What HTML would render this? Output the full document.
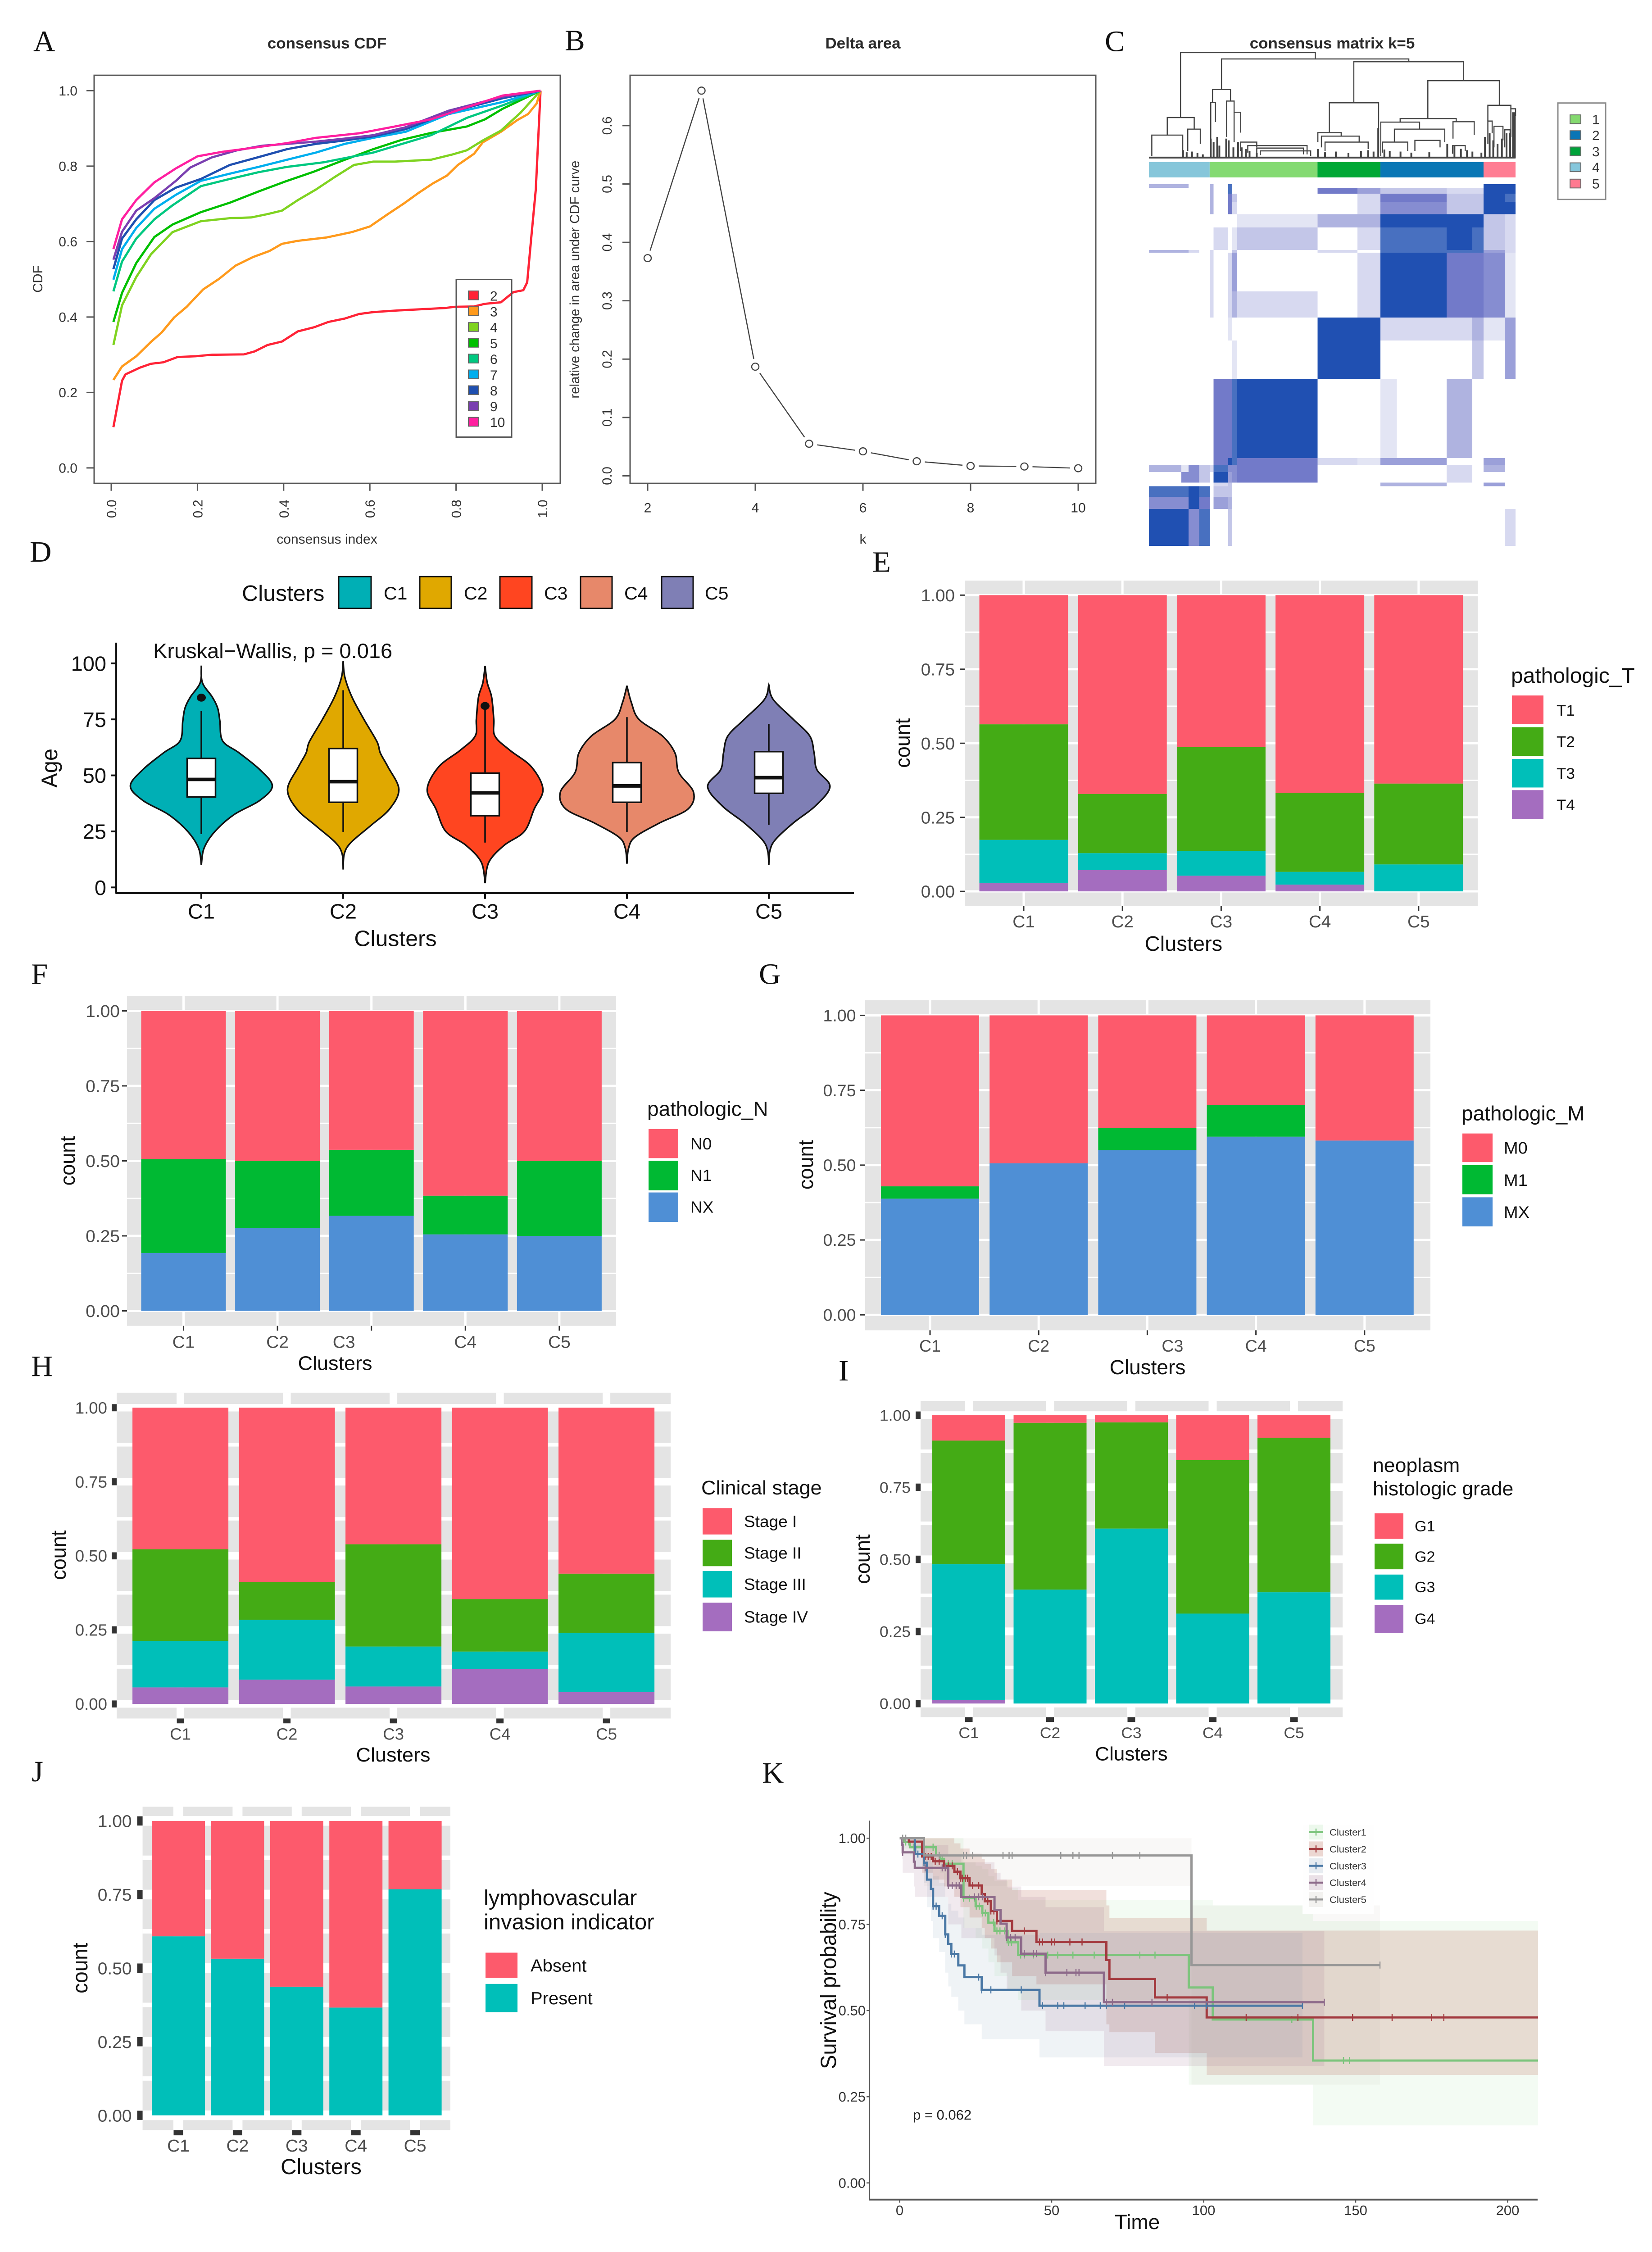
<!DOCTYPE html>
<html lang="en">
<head>
<meta charset="utf-8">
<title>Consensus clustering figure</title>
<style>
html,body{margin:0;padding:0;background:#fff;width:100%;height:100%;overflow:hidden}
svg{display:block;font-family:"Liberation Sans",Arial,sans-serif}
#fig{width:100vw;height:100vh}
.L{font-family:"Liberation Serif",serif;font-size:67px;fill:#111}
.T{font-weight:bold;font-size:35px;fill:#2a2a2a;text-anchor:middle}
.R{font-size:30px;fill:#333}
.m{text-anchor:middle}
.k{fill:#111}
</style>
</head>
<body>
<svg id="fig" xmlns="http://www.w3.org/2000/svg" viewBox="0 0 3668 5116" preserveAspectRatio="none">
<rect width="3668" height="5116" fill="#ffffff"/>

<text class="L" x="74" y="116">A</text>
<text class="L" x="1254" y="114">B</text>
<text class="L" x="2453" y="116">C</text>
<text class="L" x="66" y="1276">D</text>
<text class="L" x="1937" y="1299">E</text>
<text class="L" x="69" y="2235">F</text>
<text class="L" x="1685" y="2235">G</text>
<text class="L" x="69" y="3126">H</text>
<text class="L" x="1862" y="3136">I</text>
<text class="L" x="70" y="4047">J</text>
<text class="L" x="1692" y="4050">K</text>

<!-- A -->
<text class="T" x="726" y="110">consensus CDF</text>
<text class="R m" x="726" y="1235">consensus index</text>
<text class="R m" x="94" y="634" transform="rotate(-90 94 634)">CDF</text>
<!-- B -->
<text class="T" x="1916" y="110">Delta area</text>
<text class="R m" x="1916" y="1235">k</text>
<text class="R m" x="1286" y="635" transform="rotate(-90 1286 635)">relative change in area under CDF curve</text>
<!-- C -->
<text class="T" x="2958" y="110">consensus matrix k=5</text>
<rect x="3459" y="234" width="106" height="219" fill="#fff" stroke="#8a8a8a" stroke-width="3"/>
<rect x="3486" y="261" width="24" height="20" fill="#84d96f" stroke="#666" stroke-width="2"/>
<rect x="3486" y="297" width="24" height="20" fill="#0a75b5" stroke="#666" stroke-width="2"/>
<rect x="3486" y="334" width="24" height="20" fill="#00a33a" stroke="#666" stroke-width="2"/>
<rect x="3486" y="370" width="24" height="20" fill="#86c7dc" stroke="#666" stroke-width="2"/>
<rect x="3486" y="407" width="24" height="20" fill="#ff7a90" stroke="#666" stroke-width="2"/>
<text class="R" x="3535" y="282">1</text>
<text class="R" x="3535" y="318">2</text>
<text class="R" x="3535" y="355">3</text>
<text class="R" x="3535" y="391">4</text>
<text class="R" x="3535" y="428">5</text>
<!-- D -->
<text class="k" x="537" y="1365" font-size="50">Clusters</text>
<rect x="752" y="1310" width="72" height="72" fill="#00afb5" stroke="#111" stroke-width="3"/>
<rect x="932" y="1310" width="70" height="72" fill="#e0a800" stroke="#111" stroke-width="3"/>
<rect x="1110" y="1310" width="71" height="72" fill="#ff4520" stroke="#111" stroke-width="3"/>
<rect x="1289" y="1310" width="70" height="72" fill="#e7886a" stroke="#111" stroke-width="3"/>
<rect x="1469" y="1310" width="70" height="72" fill="#7f7fb5" stroke="#111" stroke-width="3"/>
<text class="k" x="852" y="1362" font-size="41">C1</text>
<text class="k" x="1030" y="1362" font-size="41">C2</text>
<text class="k" x="1208" y="1362" font-size="41">C3</text>
<text class="k" x="1386" y="1362" font-size="41">C4</text>
<text class="k" x="1565" y="1362" font-size="41">C5</text>
<text class="k" x="340" y="1495" font-size="47">Kruskal−Wallis, p = 0.016</text>
<text class="k m" x="127" y="1745" font-size="50" transform="rotate(-90 127 1745)">Age</text>
<text class="k m" x="878" y="2149" font-size="50">Clusters</text>
<!-- E -->
<text class="k m" x="2628" y="2160" font-size="47">Clusters</text>
<text class="k m" x="2020" y="1688" font-size="46" transform="rotate(-90 2020 1688)">count</text>
<text class="k" x="3355" y="1551" font-size="48">pathologic_T</text>
<rect x="3357" y="1580" width="70" height="65" fill="#fd5a6c"/>
<rect x="3357" y="1652" width="70" height="65" fill="#44ab15"/>
<rect x="3357" y="1724" width="70" height="65" fill="#00bfb9"/>
<rect x="3357" y="1795" width="70" height="66" fill="#a46dbf"/>
<text class="k" x="3456" y="1626" font-size="35">T1</text>
<text class="k" x="3456" y="1697" font-size="35">T2</text>
<text class="k" x="3456" y="1769" font-size="35">T3</text>
<text class="k" x="3456" y="1841" font-size="35">T4</text>
<!-- F -->
<text class="k m" x="744" y="3112" font-size="45">Clusters</text>
<text class="k m" x="166" y="2637" font-size="46" transform="rotate(-90 166 2637)">count</text>
<text class="k" x="1437" y="2535" font-size="46">pathologic_N</text>
<rect x="1440" y="2565" width="66" height="66" fill="#fd5a6c"/>
<rect x="1440" y="2637" width="66" height="67" fill="#00b933"/>
<rect x="1440" y="2709" width="66" height="67" fill="#4f8fd5"/>
<text class="k" x="1533" y="2611" font-size="37">N0</text>
<text class="k" x="1533" y="2683" font-size="37">N1</text>
<text class="k" x="1533" y="2755" font-size="37">NX</text>
<!-- G -->
<text class="k m" x="2548" y="3122" font-size="46">Clusters</text>
<text class="k m" x="1805" y="2646" font-size="46" transform="rotate(-90 1805 2646)">count</text>
<text class="k" x="3245" y="2545" font-size="46">pathologic_M</text>
<rect x="3247" y="2575" width="67" height="65" fill="#fd5a6c"/>
<rect x="3247" y="2647" width="67" height="66" fill="#00b933"/>
<rect x="3247" y="2720" width="67" height="66" fill="#4f8fd5"/>
<text class="k" x="3339" y="2621" font-size="38">M0</text>
<text class="k" x="3339" y="2694" font-size="38">M1</text>
<text class="k" x="3339" y="2767" font-size="38">MX</text>
<!-- H -->
<text class="k m" x="873" y="4002" font-size="45">Clusters</text>
<text class="k m" x="146" y="3533" font-size="46" transform="rotate(-90 146 3533)">count</text>
<text class="k" x="1557" y="3395" font-size="45">Clinical stage</text>
<rect x="1560" y="3426" width="65" height="60" fill="#fd5a6c"/>
<rect x="1560" y="3498" width="65" height="60" fill="#44ab15"/>
<rect x="1560" y="3569" width="65" height="60" fill="#00bfb9"/>
<rect x="1560" y="3641" width="65" height="65" fill="#a46dbf"/>
<text class="k" x="1652" y="3469" font-size="37">Stage I</text>
<text class="k" x="1652" y="3541" font-size="37">Stage II</text>
<text class="k" x="1652" y="3612" font-size="37">Stage III</text>
<text class="k" x="1652" y="3686" font-size="37">Stage IV</text>
<!-- I -->
<text class="k m" x="2512" y="3999" font-size="44">Clusters</text>
<text class="k m" x="1931" y="3542" font-size="46" transform="rotate(-90 1931 3542)">count</text>
<text class="k" x="3048" y="3344" font-size="44.6">neoplasm</text>
<text class="k" x="3048" y="3397" font-size="44.6">histologic grade</text>
<rect x="3052" y="3438" width="64" height="58" fill="#fd5a6c"/>
<rect x="3052" y="3507" width="64" height="58" fill="#44ab15"/>
<rect x="3052" y="3577" width="64" height="57" fill="#00bfb9"/>
<rect x="3052" y="3646" width="64" height="64" fill="#a46dbf"/>
<text class="k" x="3141" y="3479" font-size="34">G1</text>
<text class="k" x="3141" y="3548" font-size="34">G2</text>
<text class="k" x="3141" y="3617" font-size="34">G3</text>
<text class="k" x="3141" y="3689" font-size="34">G4</text>
<!-- J -->
<text class="k m" x="713" y="4939" font-size="49">Clusters</text>
<text class="k m" x="194" y="4471" font-size="47" transform="rotate(-90 194 4471)">count</text>
<text class="k" x="1074" y="4328" font-size="49">lymphovascular</text>
<text class="k" x="1074" y="4383" font-size="49">invasion indicator</text>
<rect x="1078" y="4436" width="71" height="57" fill="#fd5a6c"/>
<rect x="1078" y="4507" width="71" height="64" fill="#00bfb9"/>
<text class="k" x="1178" y="4479" font-size="40">Absent</text>
<text class="k" x="1178" y="4553" font-size="40">Present</text>
</svg>

<script>
/* ---------- panel A data ---------- */
const cdfTicks=[0,0.2,0.4,0.6,0.8,1];
const cdfTickLabels=['0.0','0.2','0.4','0.6','0.8','1.0'];
const cdfX2=[.005,.025,.033,.067,.092,.121,.154,.196,.233,.308,.333,.363,.396,.433,.471,.504,.542,.575,.608,.658,.742,.775,.796,.842,.867,.904,.933,.956,.965,.975,.985,.996];
const cdfY2=[.108,.231,.248,.266,.276,.280,.294,.296,.300,.301,.309,.326,.335,.362,.373,.387,.396,.408,.413,.417,.422,.424,.427,.428,.435,.439,.466,.471,.492,.617,.738,1];
const cdfX3=[.005,.025,.058,.092,.117,.146,.175,.213,.25,.288,.329,.367,.396,.433,.5,.558,.6,.642,.679,.713,.746,.779,.804,.842,.862,.904,.942,.967,.987,.996];
const cdfY3=[.233,.269,.296,.334,.359,.399,.427,.473,.501,.536,.559,.575,.594,.602,.611,.625,.640,.673,.701,.729,.754,.775,.803,.833,.863,.891,.922,.938,.966,1];
const cdfX4=[.005,.025,.058,.092,.142,.208,.275,.325,.363,.396,.433,.475,.517,.563,.608,.658,.742,.792,.825,.862,.904,.95,.996];
const cdfY4=[.326,.431,.506,.566,.625,.654,.662,.664,.673,.682,.710,.738,.770,.803,.812,.812,.817,.831,.842,.868,.894,.942,1];
const cdfX5=[.005,.025,.058,.1,.142,.208,.275,.342,.408,.467,.542,.608,.675,.742,.825,.867,.908,.996];
const cdfY5=[.387,.464,.543,.612,.645,.678,.703,.733,.761,.784,.817,.845,.870,.888,.905,.924,.952,1];
const cdfX6=[.005,.025,.058,.1,.142,.208,.275,.342,.408,.492,.608,.675,.742,.825,.908,.996];
const cdfY6=[.468,.547,.608,.659,.696,.747,.766,.784,.798,.810,.836,.859,.882,.928,.961,1];
const cdfX7=[.005,.025,.058,.1,.15,.208,.275,.342,.408,.475,.542,.608,.683,.783,.908,.996];
const cdfY7=[.499,.580,.636,.687,.724,.761,.780,.798,.817,.836,.859,.875,.891,.938,.970,1];
const cdfX8=[.005,.025,.058,.1,.15,.208,.275,.342,.408,.475,.542,.608,.683,.783,.908,.996];
const cdfY8=[.527,.608,.659,.710,.743,.766,.803,.824,.845,.859,.868,.879,.898,.942,.980,1];
const cdfX9=[.005,.025,.058,.1,.15,.183,.233,.292,.35,.408,.475,.542,.608,.683,.783,.908,.996];
const cdfY9=[.552,.626,.682,.715,.761,.796,.823,.842,.854,.859,.865,.873,.882,.903,.947,.984,1];
const cdfX10=[.005,.025,.058,.1,.15,.2,.258,.325,.408,.475,.575,.658,.742,.825,.908,.996];
const cdfY10=[.580,.659,.710,.757,.794,.826,.838,.848,.861,.875,.887,.905,.924,.956,.987,1];
const cdfKeys=['2','3','4','5','6','7','8','9','10'];
const cdfColors=['#ff2336','#ff9a1c','#7fd320','#00c000','#00c880','#00aeee','#1f4fb0','#7a3fb0','#ff1fa0'];
const cdfXs=[cdfX2,cdfX3,cdfX4,cdfX5,cdfX6,cdfX7,cdfX8,cdfX9,cdfX10];
const cdfYs=[cdfY2,cdfY3,cdfY4,cdfY5,cdfY6,cdfY7,cdfY8,cdfY9,cdfY10];

/* ---------- panel B data ---------- */
const deltaK=[2,3,4,5,6,7,8,9,10];
const deltaArea=[.373,.66,.187,.055,.042,.025,.017,.016,.013];
const deltaXTicks=[2,4,6,8,10];
const deltaYTicks=[0,.1,.2,.3,.4,.5,.6];
const deltaYLabels=['0.0','0.1','0.2','0.3','0.4','0.5','0.6'];

/* ---------- panel C data (sample index units 0-1020) ---------- */
const matrixColCuts=[0,90,110,140,169,180,220,232,245,469,580,644,690,828,900,931,990,1020];
const matrixRowCuts=[0,10,27,50,85,123,187,195,305,380,445,555,780,800,820,850,860,890,925,1030];
const consensus=[
'44004080000000099',
'00004080075332299',
'00004073002773398',
'00004072002663399',
'00000000144999932',
'00000201302889832',
'44202003020888852',
'00002025002997761',
'00002024202997761',
'00000010099222415',
'00000001099000305',
'00000778900104000',
'00000798721550050',
'41632866700002040',
'06630956700002000',
'00000230000440050',
'88980330000000000',
'66970540000000000',
'99680030000000002'];
const dendroMerges=[[88,463,300,115,282],[202,723,282,195,274],[570,875,274,157,220],[776,975,220,112,150],[502,639,157,72,15],[943,1007,150,105,140],[177,227,195,158,162],[51,126,115,65,82],[8,94,65,5,20],[108,143,82,20,40],[645,753,102,5,82],[683,823,82,45,45],[846,905,103,55,65],[699,855,112,102,103],[172,185,158,45,102],[216,237,162,60,130],[237,255,130,45,72],[470,535,72,45,62],[480,585,62,30,45],[490,610,45,20,25],[255,300,45,20,30],[275,440,35,15,10],[300,430,28,10,10],[310,450,20,8,5],[943,955,105,40,70],[960,985,90,30,50],[1007,1020,140,60,120],[990,1005,80,30,60],[650,720,45,15,20],[740,810,50,20,30],[845,880,35,12,20]];
const dendroBars=[[172,55],[180,45],[190,60],[196,35],[215,55],[222,50],[235,30],[248,45],[258,30],[270,25],[280,20],[300,14],[95,22],[105,16],[120,18],[135,14],[150,10],[470,25],[490,16],[520,18],[555,14],[590,20],[610,22],[625,18],[638,85],[655,24],[670,20],[700,18],[730,15],[780,16],[830,40],[850,35],[868,26],[885,22],[900,18],[925,15],[935,60],[948,70],[958,50],[970,40],[982,55],[995,70],[1005,70],[1013,130],[1018,130]];

/* ---------- panel D data ---------- */
const violinCats=['C1','C2','C3','C4','C5'];
const violinColors=['#00afb5','#e0a800','#ff4520','#e7886a','#7f7fb5'];
const ageTicks=[0,25,50,75,100];
const ageC1=[99,91.4,85,80,74.2,65.4,60.1,52.6,45.3,38.8,32.5,25,17.5,10];
const densC1=[0,.02,.2,.3,.34,.39,.69,1.07,1.3,1.07,.6,.25,.05,0];
const ageC2=[101,93.9,85,75,65,60,53.8,43.8,35,27.5,20,15,8];
const densC2=[0,.03,.16,.38,.62,.68,.82,1.02,.85,.5,.14,.02,0];
const ageC3=[98.9,91.4,85,75,67.6,61.3,53.8,43.8,35,25,18.8,11.3,1.9];
const densC3=[0,.04,.12,.16,.18,.45,.85,1.06,.9,.72,.35,.07,0];
const ageC4=[90,82.6,75,67.6,60,51.3,42.5,35,28.8,22.5,17.5,10.6];
const densC4=[0,.08,.22,.65,.88,.95,1.22,1.12,.6,.15,.03,0];
const ageC5=[90.4,83.9,75,67.6,60,52.6,45,36.3,28.8,21.3,16.3,10];
const densC5=[0,.08,.45,.75,.83,.88,1.12,.85,.45,.12,.02,0];
const violinAges=[ageC1,ageC2,ageC3,ageC4,ageC5];
const violinDens=[densC1,densC2,densC3,densC4,densC5];
const boxQ1=[40.4,38,32,38,42];
const boxMedian=[48.2,47.2,42.2,45.3,49];
const boxQ3=[57.6,62,51,55.7,60.6];
const whiskerLow=[23.8,24.8,20,24.8,28];
const whiskerHigh=[78.8,88,80.7,76,73];
const outlierAge=[84.7,null,81,null,null];

/* ---------- stacked-bar data ---------- */
const barCats=['C1','C2','C3','C4','C5'];
const barTicks=[0,.25,.5,.75,1];
const barTickLabels=['0.00','0.25','0.50','0.75','1.00'];
const shareT4=[.029,.072,.053,.023,0];
const shareT3=[.145,.057,.083,.043,.091];
const shareT2=[.390,.200,.351,.267,.273];
const shareT1=[.436,.671,.513,.667,.636];
const shareNX=[.193,.277,.317,.255,.25];
const shareN1=[.313,.223,.22,.129,.25];
const shareN0=[.494,.5,.463,.616,.5];
const shareMX=[.388,.506,.55,.595,.582];
const shareM1=[.041,0,.074,.106,0];
const shareM0=[.571,.494,.376,.299,.418];
const shareStageIV=[.056,.082,.059,.118,.04];
const shareStageIII=[.156,.202,.135,.059,.2];
const shareStageII=[.31,.128,.345,.177,.2];
const shareStageI=[.478,.588,.461,.646,.56];
const shareG4=[.012,0,0,0,0];
const shareG3=[.471,.395,.607,.312,.386];
const shareG2=[.429,.579,.368,.532,.536];
const shareG1=[.088,.026,.025,.156,.078];
const sharePresent=[.608,.532,.437,.366,.768];
const shareAbsent=[.392,.468,.563,.634,.232];

/* ---------- panel K data ---------- */
const kmXTicks=[0,50,100,150,200];
const kmYTicks=[0,.25,.5,.75,1];
const kmYLabels=['0.00','0.25','0.50','0.75','1.00'];
const km1Time=[0,1.4,3.4,12,13.3,14.6,21,25,27.2,29.2,31.2,35.5,39,95.1,103,136,210];
const km1Surv=[1,.989,.974,.951,.94,.926,.826,.803,.783,.755,.731,.698,.661,.567,.474,.355,.355];
const km1Upper=[1,1,1,1,1,1,.93,.92,.91,.89,.875,.855,.82,.82,.805,.76,.76];
const km1Lower=[1,.97,.95,.92,.9,.88,.74,.71,.68,.64,.6,.56,.53,.285,.285,.167,.167];
const km1Censor=[2,3,4.7,8,11,14,16,17.3,21,23,24.6,25.2,26.2,27.2,28.2,30.9,32,33,34.5,35.8,36.8,39.8,41,44,48.7,52,57,64,79,84,129,146,148];
const km2Time=[0,3,7.4,11,14.6,18,20,23,27,28,30,32,37,45,68,69,84,101,210];
const km2Surv=[1,.99,.947,.933,.92,.903,.884,.863,.838,.817,.789,.76,.731,.699,.647,.592,.538,.48,.48];
const km2Upper=[1,1,1,1,1,.985,.97,.955,.94,.925,.91,.88,.85,.85,.805,.768,.768,.732,.732];
const km2Lower=[1,.97,.9,.88,.86,.83,.8,.77,.74,.71,.68,.64,.6,.576,.46,.437,.377,.313,.313];
const km2Censor=[8.4,9.4,10.4,11.7,13,16,17.3,19,20,20.6,21.6,22.3,24,26,29,30,31,32,41,46,47,50,51,56,60,88,114,131,149,162,175,179];
const km3Time=[0,5,5.1,8,9,10.3,11,13,15,16,17,19.3,21.3,27,46,132.5];
const km3Surv=[1,.974,.954,.929,.88,.853,.803,.775,.721,.693,.664,.631,.597,.56,.514,.514];
const km3Upper=[1,1,1,.98,.95,.93,.89,.87,.83,.81,.79,.77,.74,.72,.725,.725];
const km3Lower=[1,.94,.91,.87,.8,.76,.71,.67,.61,.57,.54,.5,.46,.417,.364,.364];
const km3Censor=[6,8,11,12,14,15,17,18,26,27,30,40,47,52,54,61,66,68,74,97,101,132.5];
const km4Time=[0,.9,1,4.7,5,16,20.3,31.2,33.2,35.2,40,48,67.2,139.7];
const km4Surv=[1,.98,.959,.932,.914,.863,.83,.792,.752,.712,.665,.61,.524,.524];
const km4Upper=[1,1,1,1,.98,.95,.93,.9,.88,.86,.83,.8,.73,.73];
const km4Lower=[1,.94,.9,.86,.83,.75,.71,.66,.61,.56,.5,.44,.339,.339];
const km4Censor=[1,8.4,14,15,16,17.3,18.6,19.6,24.6,26,27.2,35.2,36.5,38,41,44,45,48,55,58,59,68,70,83,139.7];
const km5Time=[0,8,96,158];
const km5Surv=[1,.95,.632,.632];
const km5Upper=[1,1,.805,.805];
const km5Lower=[1,.861,.285,.285];
const km5Censor=[1,2,13,21,22,24,34,36,37,53,57,59,70,79,158];
const kmNames=['Cluster1','Cluster2','Cluster3','Cluster4','Cluster5'];
const kmColors=['#7cc47c','#a33a3f','#4a78a5','#8d6a8a','#979797'];
const kmBandColors=['#8fdc8f','#b0553f','#6f8fae','#8f5f80','#a89a8a'];
const kmBandAlpha=[.11,.18,.11,.13,.07];
const kmTimes=[km1Time,km2Time,km3Time,km4Time,km5Time];
const kmSurvs=[km1Surv,km2Surv,km3Surv,km4Surv,km5Surv];
const kmUppers=[km1Upper,km2Upper,km3Upper,km4Upper,km5Upper];
const kmLowers=[km1Lower,km2Lower,km3Lower,km4Lower,km5Lower];
const kmCensors=[km1Censor,km2Censor,km3Censor,km4Censor,km5Censor];

/* ---------- helpers ---------- */
const NS='http://www.w3.org/2000/svg';
const svg=document.getElementById('fig');
function mk(parent,tag,attrs,txt){
  const e=document.createElementNS(NS,tag);
  for(const k in attrs){e.setAttribute(k,attrs[k]);}
  if(txt!==undefined){e.textContent=txt;}
  parent.appendChild(e);
  return e;
}
function group(name){
  const g=mk(svg,'g',{});
  
  
  return g;
}

/* ---------- A ---------- */
(function(){
  const g=group('cdf-chart');
  const x=v=>247+957*v, y=v=>1063-857*v;
  const box=mk(g,'rect',{x:209,y:171,width:1035,height:927,fill:'none',stroke:'#555','stroke-width':3});
  
  
  cdfTicks.forEach((t,i)=>{
    const a=mk(g,'line',{x1:x(t),x2:x(t),y1:1098,y2:1115,stroke:'#555','stroke-width':3});
    
    
    const b=mk(g,'line',{x1:192,x2:209,y1:y(t),y2:y(t),stroke:'#555','stroke-width':3});
    
    
    const c=mk(g,'text',{x:172,y:y(t)+11,'text-anchor':'end','font-size':30,fill:'#333'},cdfTickLabels[i]);
    
    
    const d=mk(g,'text',{x:x(t)+11,y:1156,'text-anchor':'middle','font-size':30,fill:'#333',transform:'rotate(-90 '+(x(t)+11)+' 1156)'},cdfTickLabels[i]);
    
    
  });
  cdfKeys.forEach((k,i)=>{
    const p=cdfXs[i].map((v,j)=>x(v)+','+y(cdfYs[i][j])).join(' ');
    const l=mk(g,'polyline',{points:p,fill:'none',stroke:cdfColors[i],'stroke-width':5,'stroke-linejoin':'round'});
    
    
  });
  const lb=mk(g,'rect',{x:1013,y:635,width:123,height:358,fill:'none',stroke:'#555','stroke-width':3});
  
  
  cdfKeys.forEach((k,i)=>{
    const cy=671+i*35.9;
    const s=mk(g,'rect',{x:1040,y:cy-10,width:23,height:20,fill:cdfColors[i],stroke:'#666','stroke-width':2});
    
    
    const t=mk(g,'text',{x:1088,y:cy+12,'font-size':30,fill:'#333'},k);
    
    
  });
})();

/* ---------- B ---------- */
(function(){
  const g=group('delta-chart');
  const x=v=>1438+119.5*(v-2), y=v=>1081-1326*v;
  const box=mk(g,'rect',{x:1399,y:171,width:1034,height:927,fill:'none',stroke:'#555','stroke-width':3});
  
  
  deltaXTicks.forEach(t=>{
    const a=mk(g,'line',{x1:x(t),x2:x(t),y1:1098,y2:1115,stroke:'#555','stroke-width':3});
    
    
    const c=mk(g,'text',{x:x(t),y:1164,'text-anchor':'middle','font-size':30,fill:'#333'},String(t));
    
    
  });
  deltaYTicks.forEach((t,i)=>{
    const a=mk(g,'line',{x1:1382,x2:1399,y1:y(t),y2:y(t),stroke:'#555','stroke-width':3});
    
    
    const c=mk(g,'text',{x:1358,y:y(t),'text-anchor':'middle','font-size':30,fill:'#333',transform:'rotate(-90 1358 '+y(t)+')'},deltaYLabels[i]);
    
    
  });
  for(let i=0;i<deltaK.length-1;i++){
    const x1=x(deltaK[i]),y1=y(deltaArea[i]),x2=x(deltaK[i+1]),y2=y(deltaArea[i+1]);
    const L=Math.hypot(x2-x1,y2-y1),gap=Math.min(18,L/2-1),ux=(x2-x1)/L,uy=(y2-y1)/L;
    const l=mk(g,'line',{x1:x1+ux*gap,y1:y1+uy*gap,x2:x2-ux*gap,y2:y2-uy*gap,stroke:'#444','stroke-width':2.5});
    
    
  }
  deltaK.forEach((k,i)=>{
    const c=mk(g,'circle',{cx:x(k),cy:y(deltaArea[i]),r:8,fill:'#fff',stroke:'#444','stroke-width':2.5});
    
    
  });
})();

/* ---------- C ---------- */
(function(){
  const g=group('consensus-matrix');
  const sx=814/1020, sy=821.5/1030;
  const X=u=>2551+u*sx, Y=v=>418.5+v*sy, H=h=>358.7-h*.797;
  matrixRowCuts.slice(0,-1).forEach((r0,r)=>{
    for(let c=0;c<matrixColCuts.length-1;c++){
      const level=+consensus[r][c];
      if(!level) continue;
      const cell=mk(g,'rect',{x:X(matrixColCuts[c]),y:Y(r0),width:(matrixColCuts[c+1]-matrixColCuts[c])*sx,height:(matrixRowCuts[r+1]-r0)*sy,fill:level>7?'#2050b2':'#3a45b4','fill-opacity':level>=9?1:Math.max(.14,level/9*.92),'shape-rendering':'crispEdges'});
      
      
    }
  });
  const barCuts=[0,169,469,644,931,1020];
  const barColors=['#86c6da','#84da72','#00a835','#0a77b5','#ff7d93'];
  barColors.forEach((col,i)=>{
    const b=mk(g,'rect',{x:X(barCuts[i]),y:368,width:(barCuts[i+1]-barCuts[i])*sx,height:35,fill:col});
    
    
  });
  dendroBars.forEach(b=>{
    const l=mk(g,'line',{x1:X(b[0]),x2:X(b[0]),y1:H(0),y2:H(b[1]),stroke:'#444','stroke-width':4});
    
    
  });
  dendroMerges.forEach(m=>{
    const pts=[[X(m[0]),H(m[3])],[X(m[0]),H(m[2])],[X(m[1]),H(m[2])],[X(m[1]),H(m[4])]].map(p=>p.join(',')).join(' ');
    const l=mk(g,'polyline',{points:pts,fill:'none',stroke:'#444','stroke-width':2.5});
    
    
  });
  const base=mk(g,'line',{x1:2551,x2:3365,y1:358,y2:358,stroke:'#444','stroke-width':4});
  
  
})();

/* ---------- D ---------- */
(function(){
  const g=group('age-violin-chart');
  const x=i=>447+315*i, y=a=>2016-5.09*a, W=121.2;
  const ax=mk(g,'line',{x1:258,x2:258,y1:1460,y2:2030,stroke:'#111','stroke-width':4});
  
  
  const ay=mk(g,'line',{x1:258,x2:1896,y1:2029,y2:2029,stroke:'#111','stroke-width':4});
  
  
  ageTicks.forEach(t=>{
    const a=mk(g,'line',{x1:246,x2:258,y1:y(t),y2:y(t),stroke:'#111','stroke-width':4});
    
    
    const l=mk(g,'text',{x:236,y:y(t)+17,'text-anchor':'end','font-size':47,fill:'#111'},String(t));
    
    
  });
  function smooth(p){
    let d='M'+p[0][0]+' '+p[0][1];
    for(let i=0;i<p.length-1;i++){
      const a=p[Math.max(0,i-1)],b=p[i],c=p[i+1],e=p[Math.min(p.length-1,i+2)];
      d+=' C'+(b[0]+(c[0]-a[0])/6)+' '+(b[1]+(c[1]-a[1])/6)+' '+(c[0]-(e[0]-b[0])/6)+' '+(c[1]-(e[1]-b[1])/6)+' '+c[0]+' '+c[1];
    }
    return d;
  }
  violinCats.forEach((cat,i)=>{
    const cx=x(i), ages=violinAges[i], dens=violinDens[i];
    const right=ages.map((a,j)=>[cx+dens[j]*W,y(a)]);
    const left=ages.map((a,j)=>[cx-dens[j]*W,y(a)]).reverse();
    const d=smooth(right)+' '+smooth(left).replace(/^M[^C]+/,'L'+left[0][0]+' '+left[0][1]+' ')+' Z';
    const v=mk(g,'path',{d:d,fill:violinColors[i],stroke:'#111','stroke-width':3.5});
    
    
    const w=mk(g,'line',{x1:cx,x2:cx,y1:y(whiskerLow[i]),y2:y(whiskerHigh[i]),stroke:'#111','stroke-width':3.5});
    
    
    const b=mk(g,'rect',{x:cx-31.5,y:y(boxQ3[i]),width:63,height:y(boxQ1[i])-y(boxQ3[i]),fill:'#fff',stroke:'#111','stroke-width':3.5});
    
    
    const m=mk(g,'line',{x1:cx-31.5,x2:cx+31.5,y1:y(boxMedian[i]),y2:y(boxMedian[i]),stroke:'#111','stroke-width':8});
    
    
    if(outlierAge[i]!==null){
      const o=mk(g,'ellipse',{cx:cx,cy:y(outlierAge[i]),rx:10,ry:9,fill:'#111'});
      
      
    }
    const t=mk(g,'line',{x1:cx,x2:cx,y1:2029,y2:2042,stroke:'#111','stroke-width':4});
    
    
    const l=mk(g,'text',{x:cx,y:2087,'text-anchor':'middle','font-size':47,fill:'#111'},cat);
    
    
  });
})();

/* ---------- stacked bars ---------- */
function drawBars(name,p,series){
  const g=group(name+'-bar-chart');
  const y=v=>p.y0+(p.y1-p.y0)*v, x=i=>p.cx+p.step*i;
  const bg=mk(g,'rect',{x:p.x0,y:p.top,width:p.x1-p.x0,height:p.bottom-p.top,fill:'#e4e4e4'});
  
  
  barTicks.forEach((t,i)=>{
    if(i<barTicks.length-1){
      const mv=(t+barTicks[i+1])/2;
      const mn=mk(g,'line',{x1:p.x0,x2:p.x1,y1:y(mv),y2:y(mv),stroke:'#fff','stroke-width':p.minor});
      
      
    }
    const mj=mk(g,'line',{x1:p.x0,x2:p.x1,y1:y(t),y2:y(t),stroke:'#fff','stroke-width':p.major});
    
    
  });
  barCats.forEach((c,i)=>{
    const v=mk(g,'line',{x1:x(i),x2:x(i),y1:p.top,y2:p.bottom,stroke:'#fff','stroke-width':p.major});
    
    
  });
  barCats.forEach((c,i)=>{
    let total=0;
    series.forEach(s=>{total+=s.values[i];});
    let acc=0;
    series.forEach(s=>{
      const share=s.values[i]/total;
      if(share>0){
        const b=mk(g,'rect',{x:x(i)-p.bar/2,y:y(acc+share),width:p.bar,height:y(acc)-y(acc+share),fill:s.color});
        
        
      }
      acc+=share;
    });
    const t=mk(g,'rect',{x:x(i)-p.tickW/2,y:p.bottom,width:p.tickW,height:p.tickL,fill:'#333'});
    
    
    const l=mk(g,'text',{x:x(i)+(i===2?p.c3Shift:0),y:p.labelY+p.fs*.36,'text-anchor':'middle','font-size':p.fs,fill:'#4d4d4d'},c);
    
    
  });
  barTicks.forEach((t,i)=>{
    const m=mk(g,'rect',{x:p.x0-p.tickL,y:y(t)-p.tickW/2,width:p.tickL,height:p.tickW,fill:'#333'});
    
    
    const l=mk(g,'text',{x:p.x0-p.gap,y:y(t)+p.fs*.36,'text-anchor':'end','font-size':p.fs,fill:'#4d4d4d'},barTickLabels[i]);
    
    
  });
}
const RED='#fd5a6c',GRN='#44ab15',TEAL='#00bfb9',PUR='#a46dbf',GRN2='#00b933',BLU='#4f8fd5';
drawBars('t',{x0:2142,x1:3281,top:1319,bottom:2058,y0:2025,y1:1352,cx:2273,step:219.2,bar:197,major:5,minor:3,tickW:3,tickL:11,gap:22,fs:38.7,labelY:2093,c3Shift:0},
 [{key:'t4',values:shareT4,color:PUR},{key:'t3',values:shareT3,color:TEAL},{key:'t2',values:shareT2,color:GRN},{key:'t1',values:shareT1,color:RED}]);
drawBars('n',{x0:282,x1:1368,top:2263,bottom:3012,y0:2978,y1:2296.5,cx:407.5,step:208.6,bar:188,major:5,minor:3,tickW:3,tickL:11,gap:16,fs:39,labelY:3048,c3Shift:-61},
 [{key:'nx',values:shareNX,color:BLU},{key:'n1',values:shareN1,color:GRN2},{key:'n0',values:shareN0,color:RED}]);
drawBars('m',{x0:1920.5,x1:3176,top:2272,bottom:3022,y0:2987,y1:2306.7,cx:2065,step:241.2,bar:218,major:5,minor:3,tickW:3,tickL:11,gap:20,fs:37.5,labelY:3057,c3Shift:56},
 [{key:'mx',values:shareMX,color:BLU},{key:'m1',values:shareM1,color:GRN2},{key:'m0',values:shareM0,color:RED}]);
drawBars('stage',{x0:259,x1:1489,top:3164,bottom:3904,y0:3871,y1:3198,cx:400.6,step:236.5,bar:213,major:17,minor:8,tickW:16,tickL:11,gap:21,fs:36.6,labelY:3939,c3Shift:0},
 [{key:'iv',values:shareStageIV,color:PUR},{key:'iii',values:shareStageIII,color:TEAL},{key:'ii',values:shareStageII,color:GRN},{key:'i',values:shareStageI,color:RED}]);
drawBars('grade',{x0:2044,x1:2981,top:3183,bottom:3901,y0:3870,y1:3215,cx:2151,step:180.5,bar:162,major:18,minor:8,tickW:17,tickL:11,gap:22,fs:35.5,labelY:3936,c3Shift:0},
 [{key:'g4',values:shareG4,color:PUR},{key:'g3',values:shareG3,color:TEAL},{key:'g2',values:shareG2,color:GRN},{key:'g1',values:shareG1,color:RED}]);
drawBars('lvi',{x0:316.6,x1:1000,top:4104.5,bottom:4839,y0:4805.5,y1:4136.7,cx:396,step:131.4,bar:118,major:22,minor:10,tickW:21,tickL:12,gap:24,fs:39,labelY:4874,c3Shift:0},
 [{key:'present',values:sharePresent,color:TEAL},{key:'absent',values:shareAbsent,color:RED}]);

/* ---------- K ---------- */
(function(){
  const g=group('survival-chart');
  const x=t=>1997.5+6.75*t, y=s=>4959-783*s;
  function steps(ts,vs){
    const out=[[x(ts[0]),y(vs[0])]];
    for(let i=1;i<ts.length;i++){
      out.push([x(ts[i]),y(vs[i-1])]);
      out.push([x(ts[i]),y(vs[i])]);
    }
    return out;
  }
  function stepAt(ts,vs,t){
    let v=vs[0];
    for(let i=0;i<ts.length;i++){ if(ts[i]<=t) v=vs[i]; }
    return v;
  }
  kmNames.forEach((n,i)=>{
    const up=steps(kmTimes[i],kmUppers[i]);
    const lo=steps(kmTimes[i],kmLowers[i]).reverse();
    const b=mk(g,'polygon',{points:up.concat(lo).map(p=>p.join(',')).join(' '),fill:kmBandColors[i],'fill-opacity':kmBandAlpha[i]});
    
    
  });
  kmNames.forEach((n,i)=>{
    const l=mk(g,'polyline',{points:steps(kmTimes[i],kmSurvs[i]).map(p=>p.join(',')).join(' '),fill:'none',stroke:kmColors[i],'stroke-width':5});
    
    
    kmCensors[i].forEach(t=>{
      const s=stepAt(kmTimes[i],kmSurvs[i],t);
      const c=mk(g,'line',{x1:x(t),x2:x(t),y1:y(s)-8,y2:y(s)+8,stroke:kmColors[i],'stroke-width':2.5});
      
      
    });
  });
  const ya=mk(g,'line',{x1:1930.6,x2:1930.6,y1:4136,y2:4998,stroke:'#555','stroke-width':3});
  
  
  const xa=mk(g,'line',{x1:1929,x2:3414,y1:4997,y2:4997,stroke:'#555','stroke-width':4});
  
  
  kmXTicks.forEach(t=>{
    const a=mk(g,'line',{x1:x(t),x2:x(t),y1:4997,y2:5004,stroke:'#555','stroke-width':2.5});
    
    
    const l=mk(g,'text',{x:x(t),y:5032,'text-anchor':'middle','font-size':31,fill:'#333'},String(t));
    
    
  });
  kmYTicks.forEach((t,i)=>{
    const a=mk(g,'line',{x1:1924,x2:1930,y1:y(t),y2:y(t),stroke:'#555','stroke-width':2.5});
    
    
    const l=mk(g,'text',{x:1922,y:y(t)+11,'text-anchor':'end','font-size':31,fill:'#333'},kmYLabels[i]);
    
    
  });
  const lg=mk(g,'rect',{x:2892,y:4147,width:158,height:201,fill:'#fefefe'});
  
  
  kmNames.forEach((n,i)=>{
    const cy=4162+i*38.3;
    const bg=mk(g,'rect',{x:2907,y:cy-17,width:30,height:34,fill:kmBandColors[i],'fill-opacity':kmBandAlpha[i]+.05});
    
    
    const h=mk(g,'line',{x1:2907,x2:2937,y1:cy,y2:cy,stroke:kmColors[i],'stroke-width':4.5});
    
    
    const v=mk(g,'line',{x1:2922,x2:2922,y1:cy-8,y2:cy+8,stroke:kmColors[i],'stroke-width':2.5});
    
    
    const t=mk(g,'text',{x:2952,y:cy+8,'font-size':22,fill:'#333'},n);
    
    
  });
  const pv=mk(g,'text',{x:2027,y:4815,'font-size':31,fill:'#222'},'p = 0.062');
  
  
  const yt=mk(g,'text',{x:1856,y:4499,'text-anchor':'middle','font-size':48,fill:'#111',transform:'rotate(-90 1856 4499)'},'Survival probability');
  
  
  const xt=mk(g,'text',{x:2525,y:5064,'text-anchor':'middle','font-size':46,fill:'#111'},'Time');
  
  
})();
</script>
</body>
</html>
